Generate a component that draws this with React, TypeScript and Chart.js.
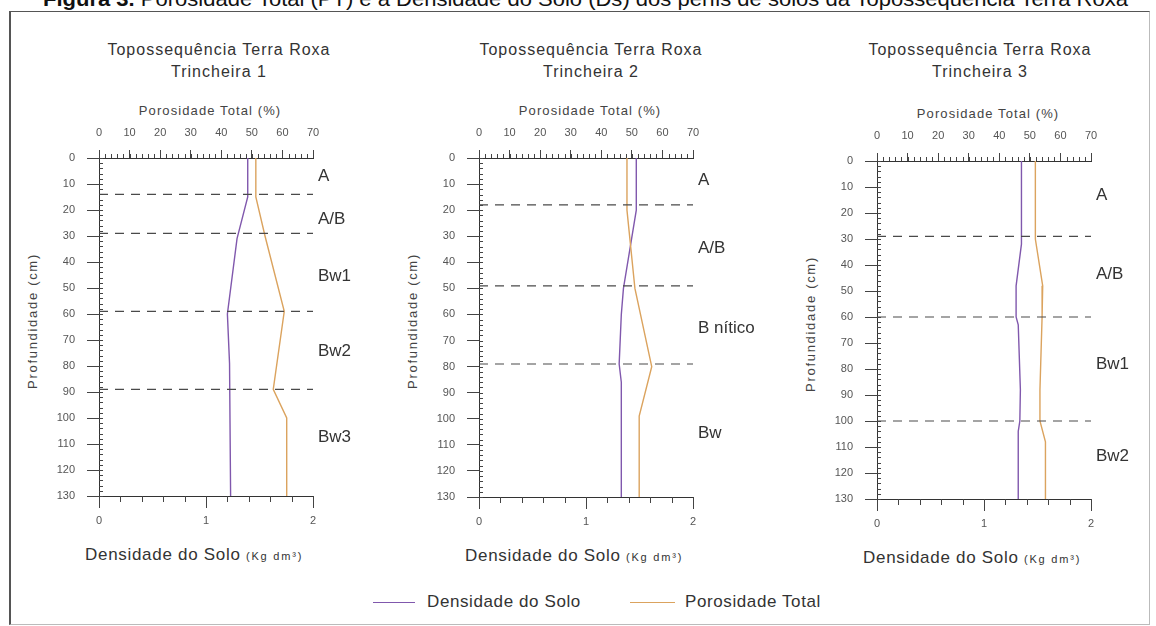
import React, { useEffect, useLayoutEffect, useRef } from 'react';
import { Chart, registerables } from 'chart.js';

Chart.register(...registerables);

const FONT = '"Liberation Sans", Arial, Helvetica, sans-serif';
const PURPLE = '#8058ad';
const ORANGE = '#dba35e';
const DASH = '#4a4a4a';

// ---- axis definitions ----
const depthRange = [0, 130];
const depthStep = 10;
const depthMinorStep = 2;
const densRange = [0, 2];
const densStep = 1;
const densMinorStep = 0.2;
const porRange = [0, 70];
const porStep = 10;
const porMinorStep = 2;

// ---- texts ----
const captionBold = 'Figura 3.';
const captionText = ' Porosidade Total (PT) e a Densidade do Solo (Ds) dos perfis de solos da Topossequência Terra Roxa';
const sequenceTitle = 'Topossequência Terra Roxa';
const trenchNames = ['Trincheira 1', 'Trincheira 2', 'Trincheira 3'];
const topAxisTitle = 'Porosidade Total (%)';
const leftAxisTitle = 'Profundidade (cm)';
const bottomAxisTitle = 'Densidade do Solo';
const bottomAxisUnit = '(Kg dm³)';
const legendLabels = ['Densidade do Solo', 'Porosidade Total'];

// ---- Trincheira 1 ----
const t1DensDepth = [0, 15, 31, 60, 79, 130];
const t1Dens = [1.39, 1.39, 1.29, 1.2, 1.22, 1.23];
const t1PorDepth = [0, 15, 30, 59, 89, 100, 130];
const t1Por = [51.3, 51.3, 54.3, 60.6, 57.0, 61.4, 61.4];
const t1Bounds = [14, 29, 59, 89];
const t1Horizons = ['A', 'A/B', 'Bw1', 'Bw2', 'Bw3'];
const t1HorizonDepth = [7, 23.5, 45.5, 74.5, 107.5];

// ---- Trincheira 2 ----
const t2DensDepth = [0, 20, 50, 60, 79, 86, 130];
const t2Dens = [1.47, 1.47, 1.35, 1.33, 1.31, 1.33, 1.33];
const t2PorDepth = [0, 20, 50, 80, 99, 130];
const t2Por = [48.4, 48.4, 51.0, 56.5, 52.4, 52.4];
const t2Bounds = [18, 49, 79];
const t2Horizons = ['A', 'A/B', 'B nítico', 'Bw'];
const t2HorizonDepth = [8.7, 34.6, 65.3, 105.5];

// ---- Trincheira 3 ----
const t3DensDepth = [0, 32, 48, 60, 63, 88, 100, 104, 130];
const t3Dens = [1.35, 1.35, 1.3, 1.3, 1.32, 1.34, 1.335, 1.32, 1.32];
const t3PorDepth = [0, 30, 48, 60, 88, 100, 108, 130];
const t3Por = [51.8, 51.8, 54.2, 54.0, 53.3, 53.3, 55.1, 55.1];
const t3Bounds = [29, 60, 100];
const t3Horizons = ['A', 'A/B', 'Bw1', 'Bw2'];
const t3HorizonDepth = [13.2, 43.4, 78.2, 113.4];

// ---- layout ----
const plotLefts = [99, 479, 877];
const plotTops = [158, 158, 161];
const plotHeights = [338, 339, 338];
const plotWidth = 214;
const titleCenters = [219, 591, 980];
const Y_AXIS_W = 80;
const TOP_AXIS_H = 40;
const BOTTOM_AXIS_H = 30;
const RIGHT_PAD = 70;

const panels = [
  { dens: t1Dens, densDepth: t1DensDepth, por: t1Por, porDepth: t1PorDepth, bounds: t1Bounds, horizons: t1Horizons, horizonDepth: t1HorizonDepth },
  { dens: t2Dens, densDepth: t2DensDepth, por: t2Por, porDepth: t2PorDepth, bounds: t2Bounds, horizons: t2Horizons, horizonDepth: t2HorizonDepth },
  { dens: t3Dens, densDepth: t3DensDepth, por: t3Por, porDepth: t3PorDepth, bounds: t3Bounds, horizons: t3Horizons, horizonDepth: t3HorizonDepth },
];

const profilePlugin = {
  id: 'profile',
  afterDraw(chart: any, _args: any, opts: any) {
    const { ctx, chartArea, scales } = chart;
    const y = scales.y;
    const xb = scales.x;
    const xt = scales.x2;
    ctx.save();
    ctx.strokeStyle = '#444';
    ctx.lineWidth = 1;
    ctx.beginPath();
    const nD = Math.round((depthRange[1] - depthRange[0]) / depthMinorStep);
    for (let i = 0; i <= nD; i++) {
      const py = Math.round(y.getPixelForValue(depthRange[0] + i * depthMinorStep)) + 0.5;
      ctx.moveTo(chartArea.left, py);
      ctx.lineTo(chartArea.left + 4, py);
    }
    const nP = Math.round((porRange[1] - porRange[0]) / porMinorStep);
    for (let i = 0; i <= nP; i++) {
      const px = Math.round(xt.getPixelForValue(porRange[0] + i * porMinorStep)) + 0.5;
      ctx.moveTo(px, chartArea.top);
      ctx.lineTo(px, chartArea.top - 4);
    }
    const nB = Math.round((densRange[1] - densRange[0]) / densMinorStep);
    for (let i = 0; i <= nB; i++) {
      const px = Math.round(xb.getPixelForValue(densRange[0] + i * densMinorStep)) + 0.5;
      ctx.moveTo(px, chartArea.bottom);
      ctx.lineTo(px, chartArea.bottom + 6);
    }
    ctx.stroke();
    ctx.fillStyle = '#333';
    ctx.font = `17px ${FONT}`;
    ctx.textAlign = 'left';
    ctx.textBaseline = 'middle';
    (opts.labels || []).forEach((t: string, i: number) => {
      ctx.fillText(t, chartArea.right + 5, y.getPixelForValue(opts.depths[i]));
    });
    ctx.restore();
  },
};

const tickFont = { size: 11, family: FONT };

function Panel({ idx }: { idx: number }) {
  const ref = useRef<HTMLCanvasElement>(null);
  const p = panels[idx];
  const left = plotLefts[idx];
  const top = plotTops[idx];
  const h = plotHeights[idx];
  const cw = Y_AXIS_W + plotWidth + RIGHT_PAD;
  const ch = TOP_AXIS_H + h + BOTTOM_AXIS_H;

  useEffect(() => {
    if (!ref.current) return;
    const toPts = (xs: number[], ds: number[]) => xs.map((x, i) => ({ x, y: ds[i] }));
    const datasets: any[] = [
      ...p.bounds.map((b) => ({
        data: [{ x: densRange[0], y: b }, { x: densRange[1], y: b }],
        xAxisID: 'x',
        yAxisID: 'y',
        showLine: true,
        borderColor: DASH,
        borderWidth: 1.2,
        borderDash: [9, 7],
        pointRadius: 0,
      })),
      {
        label: legendLabels[1],
        data: toPts(p.por, p.porDepth),
        xAxisID: 'x2',
        yAxisID: 'y',
        showLine: true,
        borderColor: ORANGE,
        borderWidth: 1.4,
        pointRadius: 0,
        tension: 0,
      },
      {
        label: legendLabels[0],
        data: toPts(p.dens, p.densDepth),
        xAxisID: 'x',
        yAxisID: 'y',
        showLine: true,
        borderColor: PURPLE,
        borderWidth: 1.4,
        pointRadius: 0,
        tension: 0,
      },
    ];
    const chart = new Chart(ref.current, {
      type: 'scatter',
      data: { datasets },
      plugins: [profilePlugin as any],
      options: {
        responsive: false,
        maintainAspectRatio: false,
        animation: false,
        events: [],
        layout: { padding: { left: 0, top: 0, right: RIGHT_PAD, bottom: 0 } },
        plugins: {
          legend: { display: false },
          tooltip: { enabled: false },
          profile: { labels: p.horizons, depths: p.horizonDepth },
        } as any,
        scales: {
          x: {
            type: 'linear',
            position: 'bottom',
            min: densRange[0],
            max: densRange[1],
            ticks: { stepSize: densStep, color: '#555', font: tickFont, padding: 6, maxRotation: 0 },
            grid: { drawOnChartArea: false, tickLength: 12, color: '#444' },
            border: { color: '#333', width: 1 },
            afterFit: (s: any) => { s.height = BOTTOM_AXIS_H; },
          },
          x2: {
            type: 'linear',
            axis: 'x',
            position: 'top',
            min: porRange[0],
            max: porRange[1],
            ticks: { stepSize: porStep, color: '#555', font: tickFont, padding: 10, maxRotation: 0 },
            grid: { drawOnChartArea: false, tickLength: 8, color: '#444' },
            border: { color: '#333', width: 1 },
            afterFit: (s: any) => { s.height = TOP_AXIS_H; },
          },
          y: {
            type: 'linear',
            position: 'left',
            reverse: true,
            min: depthRange[0],
            max: depthRange[1],
            ticks: { stepSize: depthStep, color: '#555', font: tickFont, padding: 12 },
            grid: { drawOnChartArea: false, tickLength: 12, color: '#444' },
            border: { color: '#333', width: 1 },
            afterFit: (s: any) => { s.width = Y_AXIS_W; },
          },
        } as any,
      },
    });
    return () => chart.destroy();
  }, []);

  const plotCenter = left + plotWidth / 2;
  const bottom = top + h;
  return (
    <>
      <div
        style={{
          position: 'absolute', left: titleCenters[idx] - 150, top: 38.5, width: 300,
          textAlign: 'center', font: `16px ${FONT}`, lineHeight: '22px', letterSpacing: '1px', color: '#333',
        }}
      >
        {sequenceTitle}
        <br />
        {trenchNames[idx]}
      </div>
      <div
        style={{
          position: 'absolute', left: plotCenter + 4 - 120, top: top - 55.5, width: 240,
          textAlign: 'center', font: `13px ${FONT}`, lineHeight: '16px', letterSpacing: '1.1px', color: '#444', whiteSpace: 'nowrap',
        }}
      >
        {topAxisTitle}
      </div>
      <div
        style={{
          position: 'absolute', left: left - 66, top: top + 163,
          transform: 'translate(-50%, -50%) rotate(-90deg)',
          font: `13px ${FONT}`, letterSpacing: '1.7px', color: '#444', whiteSpace: 'nowrap', lineHeight: '16px',
        }}
      >
        {leftAxisTitle}
      </div>
      <canvas
        ref={ref}
        width={cw}
        height={ch}
        style={{ position: 'absolute', left: left - Y_AXIS_W, top: top - TOP_AXIS_H, width: cw, height: ch }}
      />
      <div
        style={{
          position: 'absolute', left: left - 14, top: bottom + 49, whiteSpace: 'nowrap',
          font: `17px ${FONT}`, lineHeight: '20px', letterSpacing: '0.7px', color: '#333',
        }}
      >
        {bottomAxisTitle}{' '}
        <span style={{ fontSize: 11, letterSpacing: '1.8px' }}>{bottomAxisUnit}</span>
      </div>
    </>
  );
}

function Caption() {
  const ref = useRef<HTMLSpanElement>(null);
  useLayoutEffect(() => {
    const el = ref.current;
    if (!el) return;
    el.style.transform = 'none';
    const w = el.getBoundingClientRect().width;
    if (w > 0) el.style.transform = `scaleX(${1085 / w})`;
  }, []);
  return (
    <span
      ref={ref}
      style={{
        position: 'absolute', left: 43, top: -13, font: `21px ${FONT}`, lineHeight: '24px',
        whiteSpace: 'nowrap', transformOrigin: '0 0', color: '#111',
      }}
    >
      <b>{captionBold}</b>
      {captionText}
    </span>
  );
}

function Legend() {
  const items = [
    { label: legendLabels[0], color: PURPLE, x1: 373, x2: 415, tx: 427 },
    { label: legendLabels[1], color: ORANGE, x1: 630, x2: 675, tx: 685 },
  ];
  return (
    <>
      {items.map((it) => (
        <React.Fragment key={it.label}>
          <div style={{ position: 'absolute', left: it.x1, top: 602, width: it.x2 - it.x1, height: 1.4, background: it.color }} />
          <div
            style={{
              position: 'absolute', left: it.tx, top: 592, whiteSpace: 'nowrap',
              font: `17px ${FONT}`, lineHeight: '20px', letterSpacing: '0.6px', color: '#333',
            }}
          >
            {it.label}
          </div>
        </React.Fragment>
      ))}
    </>
  );
}

export default function App() {
  return (
    <div style={{ position: 'absolute', left: 0, top: 0, width: 1156, height: 626, overflow: 'hidden', background: '#fff' }}>
      <Caption />
      <div
        style={{
          position: 'absolute', left: 9, top: 11, width: 1141, height: 614, boxSizing: 'border-box',
          borderTop: '1px solid #555', borderLeft: '2px solid #555', borderRight: '1px solid #bbb', borderBottom: '1px solid #bbb',
        }}
      />
      {panels.map((_, i) => (
        <Panel key={i} idx={i} />
      ))}
      <Legend />
    </div>
  );
}
